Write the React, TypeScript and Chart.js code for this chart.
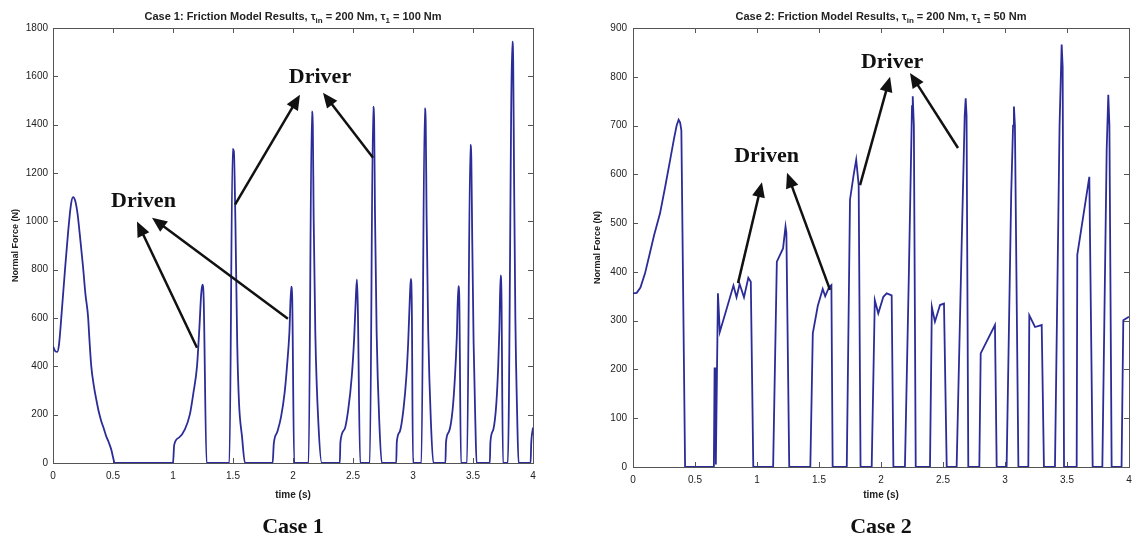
import React, { useEffect, useRef } from "react";
import { Chart, registerables } from "chart.js";

Chart.register(...registerables);

// ---------- Data ----------
const timeTicks = [0, 0.5, 1, 1.5, 2, 2.5, 3, 3.5, 4];
const case1ForceTicks = [0, 200, 400, 600, 800, 1000, 1200, 1400, 1600, 1800];
const case2ForceTicks = [0, 100, 200, 300, 400, 500, 600, 700, 800, 900];

const case1Time = [
  0, 0.02, 0.035, 0.05, 0.075, 0.1, 0.125, 0.15, 0.167, 0.185, 0.205, 0.222, 0.25, 0.27, 0.292, 0.305, 0.319, 0.34, 0.361, 0.38, 0.403, 0.425, 0.444, 0.465, 0.486, 0.5, 0.514,
  1.0, 1.01, 1.05, 1.1, 1.14, 1.17, 1.2, 1.22, 1.235, 1.245, 1.255, 1.28,
  1.47, 1.497, 1.507, 1.52, 1.535, 1.55, 1.575, 1.6,
  1.83, 1.84, 1.87, 1.9, 1.93, 1.95, 1.97, 1.985, 1.993, 2.01,
  2.13, 2.157, 2.165, 2.172, 2.186, 2.213, 2.24,
  2.39, 2.395, 2.43, 2.46, 2.49, 2.51, 2.525, 2.533, 2.54, 2.56,
  2.64, 2.668, 2.676, 2.683, 2.697, 2.72, 2.74,
  2.86, 2.865, 2.89, 2.92, 2.945, 2.96, 2.975, 2.982, 2.99, 3.0,
  3.07, 3.098, 3.106, 3.113, 3.127, 3.15, 3.17,
  3.27, 3.275, 3.3, 3.33, 3.35, 3.365, 3.378, 3.385, 3.4,
  3.45, 3.478, 3.486, 3.493, 3.505, 3.52, 3.53,
  3.64, 3.645, 3.67, 3.695, 3.71, 3.72, 3.73, 3.737, 3.75,
  3.79, 3.828, 3.835, 3.842, 3.853, 3.868, 3.88,
  3.98, 3.985, 4.0,
];
const case1Force = [
  483, 462, 460, 490, 640, 800, 950, 1070, 1100, 1085, 1030, 952, 813, 700, 607, 500, 400, 320, 262, 215, 172, 140, 110, 85, 55, 25, 0,
  0, 75, 105, 140, 200, 290, 400, 560, 700, 738, 690, 0,
  0, 1300, 1290, 1000, 500, 250, 110, 0,
  0, 80, 130, 190, 290, 400, 540, 730, 690, 0,
  0, 1455, 1400, 1020, 537, 151, 0,
  0, 86, 140, 220, 360, 520, 700, 760, 650, 0,
  0, 1475, 1420, 1040, 540, 160, 0,
  0, 86, 130, 220, 360, 500, 700, 762, 650, 0,
  0, 1468, 1410, 1030, 540, 160, 0,
  0, 86, 130, 220, 360, 520, 732, 700, 0,
  0, 1317, 1260, 950, 500, 160, 0,
  0, 86, 140, 250, 400, 560, 776, 700, 0,
  0, 1744, 1660, 1200, 600, 200, 0,
  0, 80, 147,
];

const case2Time = [
  0, 0.03, 0.06, 0.097, 0.13, 0.17, 0.218, 0.26, 0.3, 0.33, 0.352, 0.368, 0.38, 0.39, 0.42,
  0.652, 0.658, 0.663, 0.668, 0.685, 0.7, 0.75, 0.81, 0.835, 0.86, 0.895, 0.93, 0.95, 0.97,
  1.13, 1.16, 1.21, 1.23, 1.237, 1.26,
  1.43, 1.45, 1.49, 1.53, 1.55, 1.58, 1.6, 1.61,
  1.724, 1.75, 1.78, 1.8, 1.82, 1.835,
  1.925, 1.95, 1.978, 2.019, 2.046, 2.086, 2.1,
  2.193, 2.225, 2.25, 2.256, 2.265, 2.28,
  2.395, 2.41, 2.435, 2.476, 2.508, 2.53,
  2.61, 2.65, 2.675, 2.683, 2.69, 2.704,
  2.793, 2.804, 2.919, 2.933,
  3.013, 3.05, 3.065, 3.072, 3.08, 3.108,
  3.188, 3.196, 3.242, 3.296, 3.314,
  3.403, 3.44, 3.457, 3.465, 3.476,
  3.578, 3.583, 3.68, 3.707,
  3.785, 3.82, 3.833, 3.842, 3.86,
  3.94, 3.954, 4.0,
];
const case2Force = [
  356, 357, 368, 397, 432, 475, 520, 575, 630, 672, 700, 712, 706, 690, 0,
  0, 202, 202, 5, 356, 277, 320, 372, 348, 375, 348, 388, 380, 0,
  0, 421, 448, 493, 480, 0,
  0, 274, 330, 365, 350, 368, 373, 0,
  0, 548, 600, 630, 578, 0,
  0, 342, 315, 349, 356, 352, 0,
  0, 400, 740, 760, 700, 0,
  0, 328, 298, 332, 335, 0,
  0, 450, 720, 756, 720, 0,
  0, 233, 291, 0,
  0, 560, 700, 739, 700, 0,
  0, 311, 287, 291, 0,
  0, 700, 866, 820, 0,
  0, 435, 595, 0,
  0, 650, 763, 700, 0,
  0, 301, 308,
];

// Annotations (data coordinates: time, force)
const case1NoteTexts = ["Driven", "Driver"];
const case1NoteTime = [0.754, 2.225];
const case1NoteForce = [1081, 1594];
const case1ArrowFrom = [[1.2, 477], [1.958, 597], [1.517, 1069], [2.667, 1263]];
const case1ArrowTo = [[0.7, 999], [0.825, 1015], [2.058, 1524], [2.25, 1532]];

const case2NoteTexts = ["Driven", "Driver"];
const case2NoteTime = [1.077, 2.089];
const case2NoteForce = [636, 829];
const case2ArrowFrom = [[0.847, 377], [1.589, 363], [1.831, 578], [2.621, 654]];
const case2ArrowTo = [[1.04, 584], [1.242, 603], [2.073, 800], [2.234, 808]];

const case1TitleParts = [
  { text: "Case 1: Friction Model Results, \u03c4", sub: false },
  { text: "in", sub: true },
  { text: " = 200 Nm, \u03c4", sub: false },
  { text: "1", sub: true },
  { text: " = 100 Nm", sub: false },
];
const case2TitleParts = [
  { text: "Case 2: Friction Model Results, \u03c4", sub: false },
  { text: "in", sub: true },
  { text: " = 200 Nm, \u03c4", sub: false },
  { text: "1", sub: true },
  { text: " = 50 Nm", sub: false },
];

const SANS = '"Liberation Sans", Arial, sans-serif';
const SERIF = '"Liberation Serif", "Times New Roman", serif';
const LINE_COLOR = "#2c2c98";

type PanelCfg = {
  time: number[];
  force: number[];
  forceTicks: number[];
  forceMax: number;
  padRight: number;
  xHeight: number;
  yLabelPad: number;
  yTitleX: number;
  titleParts: { text: string; sub: boolean }[];
  caseLabel: string;
  noteTexts: string[];
  noteTime: number[];
  noteForce: number[];
  arrowFrom: number[][];
  arrowTo: number[][];
  tension: number;
};

function drawArrow(ctx: CanvasRenderingContext2D, x1: number, y1: number, x2: number, y2: number) {
  const ang = Math.atan2(y2 - y1, x2 - x1);
  const head = 15;
  const half = 6.5;
  const bx = x2 - head * Math.cos(ang);
  const by = y2 - head * Math.sin(ang);
  ctx.beginPath();
  ctx.moveTo(x1, y1);
  ctx.lineTo(bx + 2 * Math.cos(ang), by + 2 * Math.sin(ang));
  ctx.stroke();
  ctx.beginPath();
  ctx.moveTo(x2, y2);
  ctx.lineTo(bx + half * Math.sin(ang), by - half * Math.cos(ang));
  ctx.lineTo(bx - half * Math.sin(ang), by + half * Math.cos(ang));
  ctx.closePath();
  ctx.fill();
}

function makePanel(canvas: HTMLCanvasElement, cfg: PanelCfg) {
  const decor = {
    id: "decor",
    beforeDatasetsDraw(chart: any) {
      const ctx: CanvasRenderingContext2D = chart.ctx;
      const { left, right, top, bottom } = chart.chartArea;
      const xs = chart.scales.x;
      const ys = chart.scales.y;
      ctx.save();
      ctx.strokeStyle = "#555";
      ctx.lineWidth = 1;
      ctx.strokeRect(Math.round(left) + 0.5, Math.round(top) + 0.5, Math.round(right - left), Math.round(bottom - top));
      ctx.beginPath();
      timeTicks.forEach((v) => {
        const px = Math.round(xs.getPixelForValue(v)) + 0.5;
        ctx.moveTo(px, bottom);
        ctx.lineTo(px, bottom - 5);
        ctx.moveTo(px, top);
        ctx.lineTo(px, top + 5);
      });
      cfg.forceTicks.forEach((v) => {
        const py = Math.round(ys.getPixelForValue(v)) + 0.5;
        ctx.moveTo(left, py);
        ctx.lineTo(left + 5, py);
        ctx.moveTo(right, py);
        ctx.lineTo(right - 5, py);
      });
      ctx.stroke();
      ctx.restore();
    },
    afterDraw(chart: any) {
      const ctx: CanvasRenderingContext2D = chart.ctx;
      const { left, right, top, bottom } = chart.chartArea;
      const xs = chart.scales.x;
      const ys = chart.scales.y;
      const cx = (left + right) / 2;
      ctx.save();
      // Title with subscripts
      const mainFont = `bold 11px ${SANS}`;
      const subFont = `bold 8px ${SANS}`;
      let total = 0;
      cfg.titleParts.forEach((p) => {
        ctx.font = p.sub ? subFont : mainFont;
        total += ctx.measureText(p.text).width;
      });
      let x = cx - total / 2;
      ctx.fillStyle = "#222";
      ctx.textBaseline = "alphabetic";
      ctx.textAlign = "left";
      cfg.titleParts.forEach((p) => {
        ctx.font = p.sub ? subFont : mainFont;
        ctx.fillText(p.text, x, p.sub ? 23 : 20);
        x += ctx.measureText(p.text).width;
      });
      // Axis titles
      ctx.font = `bold 10px ${SANS}`;
      ctx.textAlign = "center";
      ctx.textBaseline = "middle";
      ctx.fillText("time (s)", cx, 495);
      ctx.save();
      ctx.translate(cfg.yTitleX, (top + bottom) / 2);
      ctx.rotate(-Math.PI / 2);
      ctx.font = `bold 9px ${SANS}`;
      ctx.fillText("Normal Force (N)", 0, 0);
      ctx.restore();
      // Case label
      ctx.fillStyle = "#111";
      ctx.font = `bold 22px ${SERIF}`;
      ctx.fillText(cfg.caseLabel, cx, 527);
      // Notes
      cfg.noteTexts.forEach((t, i) => {
        ctx.fillText(t, xs.getPixelForValue(cfg.noteTime[i]), ys.getPixelForValue(cfg.noteForce[i]));
      });
      // Arrows
      ctx.strokeStyle = "#111";
      ctx.fillStyle = "#111";
      ctx.lineWidth = 2.5;
      cfg.arrowFrom.forEach((f, i) => {
        const to = cfg.arrowTo[i];
        drawArrow(
          ctx,
          xs.getPixelForValue(f[0]),
          ys.getPixelForValue(f[1]),
          xs.getPixelForValue(to[0]),
          ys.getPixelForValue(to[1])
        );
      });
      ctx.restore();
    },
  };

  return new Chart(canvas, {
    type: "line",
    data: {
      datasets: [
        {
          data: cfg.time.map((t, i) => ({ x: t, y: cfg.force[i] })),
          borderColor: LINE_COLOR,
          borderWidth: 1.8,
          pointRadius: 0,
          fill: false,
          tension: cfg.tension,
          cubicInterpolationMode: cfg.tension > 0 ? "monotone" : "default",
        } as any,
      ],
    },
    options: {
      responsive: false,
      animation: false,
      events: [],
      layout: { padding: { left: 0, right: cfg.padRight, top: 28, bottom: 0 } },
      plugins: { legend: { display: false }, tooltip: { enabled: false }, title: { display: false } },
      scales: {
        x: {
          type: "linear",
          min: 0,
          max: 4,
          afterBuildTicks: (s: any) => {
            s.ticks = timeTicks.map((v) => ({ value: v }));
          },
          afterFit: (s: any) => {
            s.height = cfg.xHeight;
            s.paddingLeft = 0;
            s.paddingRight = 0;
          },
          grid: { display: false, drawTicks: false },
          border: { display: false },
          ticks: {
            autoSkip: false,
            maxRotation: 0,
            padding: 7,
            color: "#222",
            font: { family: SANS, size: 10 },
            callback: (v: any) => String(v),
          },
        },
        y: {
          type: "linear",
          min: 0,
          max: cfg.forceMax,
          afterBuildTicks: (s: any) => {
            s.ticks = cfg.forceTicks.map((v) => ({ value: v }));
          },
          afterFit: (s: any) => {
            s.width = 53;
            s.paddingTop = 0;
            s.paddingBottom = 0;
          },
          grid: { display: false, drawTicks: false },
          border: { display: false },
          ticks: {
            autoSkip: false,
            padding: cfg.yLabelPad,
            color: "#222",
            font: { family: SANS, size: 10 },
            callback: (v: any) => String(v),
          },
        },
      },
    } as any,
    plugins: [decor],
  });
}

export default function App() {
  const leftRef = useRef<HTMLCanvasElement>(null);
  const rightRef = useRef<HTMLCanvasElement>(null);

  useEffect(() => {
    const c1 = makePanel(leftRef.current!, {
      time: case1Time,
      force: case1Force,
      forceTicks: case1ForceTicks,
      forceMax: 1800,
      padRight: 34,
      xHeight: 74,
      yLabelPad: 5,
      yTitleX: 16,
      titleParts: case1TitleParts,
      caseLabel: "Case 1",
      noteTexts: case1NoteTexts,
      noteTime: case1NoteTime,
      noteForce: case1NoteForce,
      arrowFrom: case1ArrowFrom,
      arrowTo: case1ArrowTo,
      tension: 0.4,
    });
    const c2 = makePanel(rightRef.current!, {
      time: case2Time,
      force: case2Force,
      forceTicks: case2ForceTicks,
      forceMax: 900,
      padRight: 5,
      xHeight: 70,
      yLabelPad: 6,
      yTitleX: 18,
      titleParts: case2TitleParts,
      caseLabel: "Case 2",
      noteTexts: case2NoteTexts,
      noteTime: case2NoteTime,
      noteForce: case2NoteForce,
      arrowFrom: case2ArrowFrom,
      arrowTo: case2ArrowTo,
      tension: 0,
    });
    return () => {
      c1.destroy();
      c2.destroy();
    };
  }, []);

  return (
    <div style={{ position: "absolute", left: 0, top: 0, width: 1134, height: 537, background: "#fff", overflow: "hidden" }}>
      <canvas ref={leftRef} width={567} height={537} style={{ position: "absolute", left: 0, top: 0 }} />
      <canvas ref={rightRef} width={554} height={537} style={{ position: "absolute", left: 580, top: 0 }} />
    </div>
  );
}
